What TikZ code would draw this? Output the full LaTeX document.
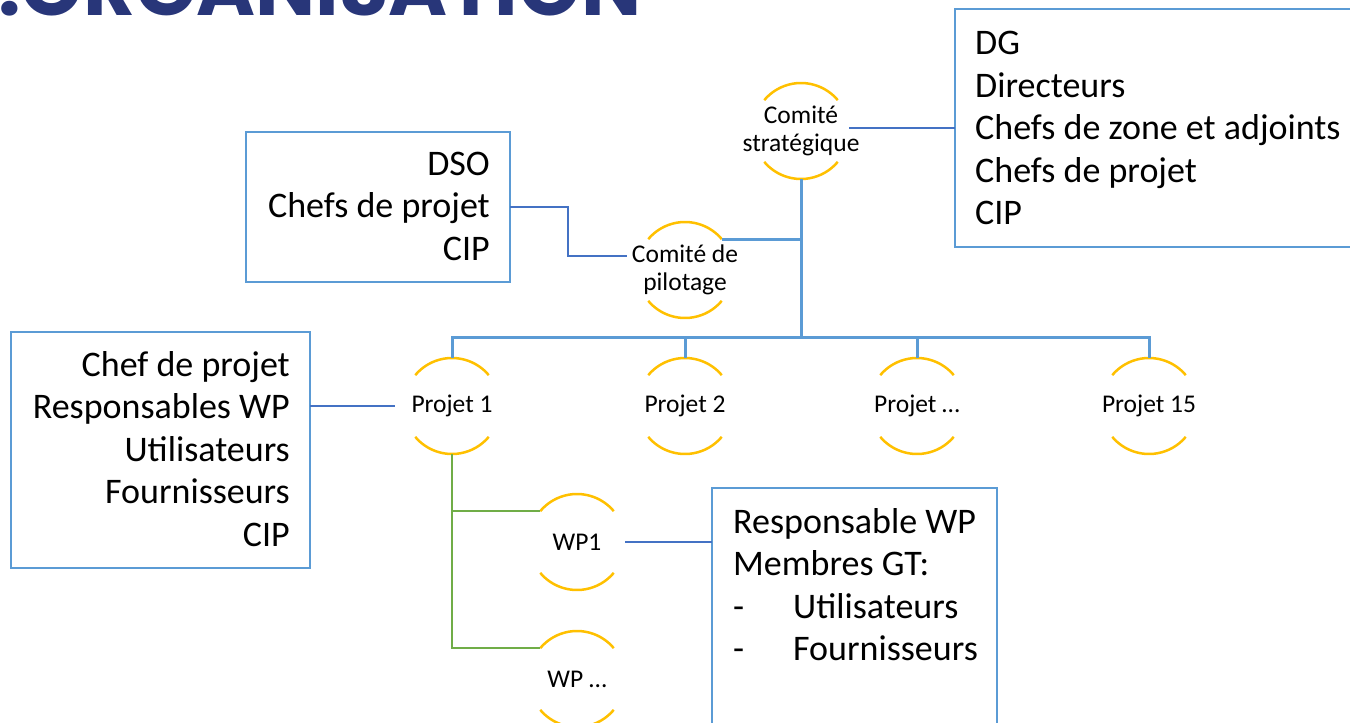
\documentclass[tikz,border=0pt]{standalone}
\usepackage{fontspec}
\setmainfont{Carlito}
\newfontfamily\titlefont{Poppins}
\usetikzlibrary{calc}
\definecolor{boxblue}{HTML}{5B9BD5}
\definecolor{linkblue}{HTML}{4472C4}
\definecolor{wpgreen}{HTML}{70AD47}
\definecolor{ringorange}{HTML}{FFC000}
\definecolor{titlenavy}{HTML}{283679}
\begin{document}
\begin{tikzpicture}[x=1pt,y=-1pt,
  box/.style={draw=boxblue, line width=2.2pt, inner sep=0pt, outer sep=0pt},
  boxtext/.style={inner sep=0pt, font=\fontsize{36}{42.5}\selectfont},
  ring/.style={circle, minimum size=96pt, inner sep=0pt, outer sep=0pt},
  ringtext/.style={align=center, inner sep=0pt, font=\fontsize{25.5}{28}\selectfont},
  arcline/.style={draw=ringorange, line width=2.5pt},
  link/.style={draw=linkblue, line width=2pt},
  trunk/.style={draw=boxblue, line width=3pt},
  greenlink/.style={draw=wpgreen, line width=2.5pt}]
\useasboundingbox (0,0) rectangle (1350,723);
\clip (0,0) rectangle (1350,723);
\node[anchor=base west, inner sep=0pt, font={\titlefont\bfseries\fontsize{80}{80}\selectfont}, text=titlenavy] (title) at (-2,15) {.ORGANISATION};
% rings
\node[ring, label={[ringtext]center:Comité\\stratégique}] (cs) at (801,131) {};
\node[ring, label={[ringtext]center:Comité de\\pilotage}] (cp) at (685,270) {};
\node[ring, label={[ringtext]center:Projet 1}] (p1) at (452,406) {};
\node[ring, label={[ringtext]center:Projet 2}] (p2) at (685,406) {};
\node[ring, label={[ringtext]center:Projet …}] (p3) at (917,406) {};
\node[ring, label={[ringtext]center:Projet 15}] (p4) at (1149,406) {};
\node[ring, label={[ringtext]center:WP1}] (wp1) at (577,542) {};
\node[ring, label={[ringtext]center:WP …}] (wpn) at (577,679) {};
\foreach \n in {cs,cp,p1,p2,p3,p4,wp1,wpn}{
  \draw[arcline] (\n.40) arc[start angle=40,end angle=140,radius=48pt];
  \draw[arcline] (\n.220) arc[start angle=220,end angle=320,radius=48pt];
}
% boxes
\node[box, anchor=north west, minimum width=420pt, minimum height=238pt] (dg) at (955,9) {};
\node[boxtext, anchor=west, align=left] (dgt) at (975,128)
  {DG\\Directeurs\\Chefs de zone et adjoints\\Chefs de projet\\CIP};
\node[box, anchor=north west, minimum width=264pt, minimum height=150pt] (dso) at (246,132) {};
\node[boxtext, anchor=east, align=right] (dsot) at (490,206)
  {DSO\\Chefs de projet\\CIP};
\node[box, anchor=north west, minimum width=299pt, minimum height=236pt] (lb) at (11,332) {};
\node[boxtext, anchor=east, align=right] (lbt) at (290,449)
  {Chef de projet\\Responsables WP\\Utilisateurs\\Fournisseurs\\CIP};
\node[box, anchor=north west, minimum width=285pt, minimum height=280pt] (wpb) at (712,488) {};
\node[boxtext, anchor=north west, align=left] (wpt) at (733,508)
  {Responsable WP\\Membres GT:\\\makebox[60pt][l]{-}Utilisateurs\\\makebox[60pt][l]{-}Fournisseurs};
% connectors
\coordinate (bus) at (801,337);
\draw[link] ([yshift=3pt]cs.east) -- ([yshift=3pt]cs.east -| dg.west);
\draw[trunk] (cs.south) -- (bus);
\draw[trunk] (p1.north) -- (p1.north |- bus) -- (p4.north |- bus) -- (p4.north);
\draw[trunk] (p2.north) -- (p2.north |- bus);
\draw[trunk] (p3.north) -- (p3.north |- bus);
\draw[trunk] (cp.40) -- (cp.40 -| bus);
\draw[link] (dso.east) -- ++(58,0) |- ([xshift=-10pt,yshift=14pt]cp.west);
\draw[link] (lb.east |- p1.west) -- ([xshift=-9pt]p1.west);
\draw[link] (wp1.east) -- (wp1.east -| wpb.west);
\draw[greenlink] (p1.south) -- (p1.south |- wpn.140) -- (wpn.140);
\draw[greenlink] (p1.south |- wp1.140) -- (wp1.140);
\end{tikzpicture}
\end{document}
